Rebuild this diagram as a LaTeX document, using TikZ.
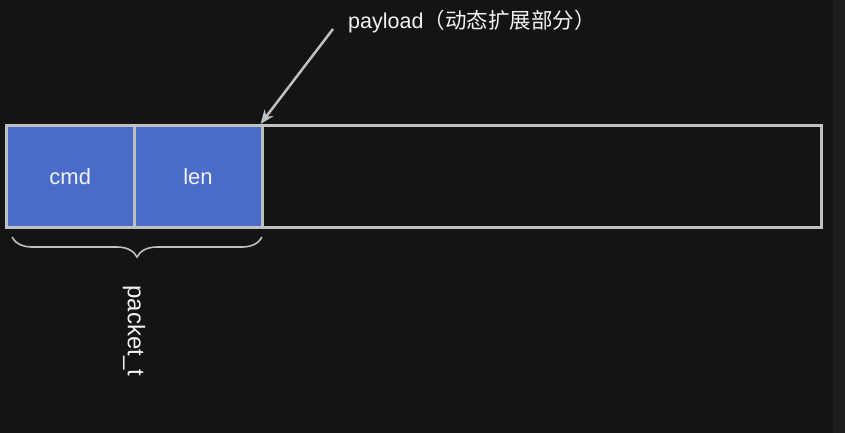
\documentclass[tikz,border=0pt]{standalone}
\usepackage{fontspec}
\setmainfont{Liberation Sans}
\newfontfamily\cjk{Noto Sans CJK SC}
\usetikzlibrary{arrows.meta,decorations.pathreplacing}
\definecolor{bgdark}{HTML}{141414}
\definecolor{bgstrip}{HTML}{1E1E1E}
\definecolor{linegray}{HTML}{C0C0C0}
\definecolor{fieldblue}{HTML}{4B6BC8}
\definecolor{txtwhite}{HTML}{F2F2F2}
\tikzset{
  fieldbox/.style={draw=linegray, line width=3pt, fill=fieldblue, rectangle, inner sep=0pt,
    minimum height=102pt, text=txtwhite, font=\fontsize{22}{26}\selectfont},
  emptybox/.style={draw=linegray, line width=3pt, fill=bgdark, rectangle, inner sep=0pt,
    minimum height=102pt, minimum width=559.5pt},
  lbl/.style={text=txtwhite, font=\fontsize{21.5}{26}\selectfont, inner sep=0pt},
  pointer/.style={draw=linegray, line width=2.5pt, -{Stealth[length=14pt,width=11pt]}},
  bracestyle/.style={draw=linegray, line width=1.6pt, decorate,
    decoration={brace, mirror, amplitude=20pt}}
}
\begin{document}
\begin{tikzpicture}[x=1pt,y=-1pt]
\fill[bgdark] (0,0) rectangle (845,433);
\fill[bgstrip] (833,0) rectangle (845,433);
\useasboundingbox (0,0) rectangle (845,433);
\node[emptybox] (payload) at (541.75,176.5) {};
\node[fieldbox, minimum width=127.5pt] (cmd) at (70.25,176.5) {cmd};
\node[fieldbox, minimum width=128pt] (len) at (198,176.5) {len};
\node[lbl, anchor=west] (plabel) at (348,22) {payload{\cjk（动态扩展部分）}};
\coordinate (pstart) at (333,29);
\draw[pointer] (pstart) -- (payload.north west);
\coordinate (bl) at (12,237);
\coordinate (br) at (262,237);
\draw[bracestyle] (bl) -- (br);
\node[lbl, rotate=-90, font=\fontsize{24}{28}\selectfont] (ptype) at (134,331) {packet\_t};
\end{tikzpicture}
\end{document}
